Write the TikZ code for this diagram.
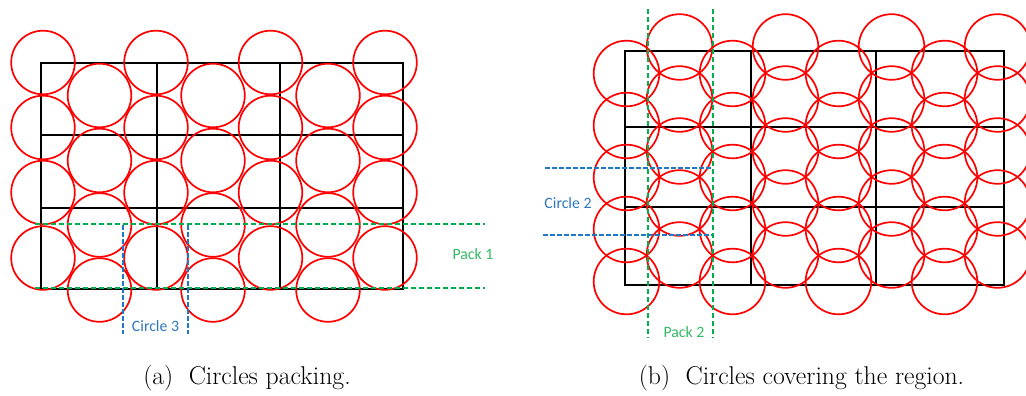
\documentclass[tikz,border=0pt]{standalone}
\usepackage{fontspec}
\newfontfamily\labelfont{Carlito}
\definecolor{packgreen}{RGB}{0,176,80}
\definecolor{packgreentext}{RGB}{50,185,100}
\definecolor{circblue}{RGB}{30,120,200}
\definecolor{circbluetext}{RGB}{46,120,190}
\tikzset{
  grid/.style={draw=black, line width=2pt},
  disc/.style={draw=red, line width=1.7pt},
  greendash/.style={draw=packgreen, line width=1.8pt, dash pattern=on 5pt off 3pt},
  bluedash/.style={draw=circblue, line width=1.8pt, dash pattern=on 5pt off 2pt},
  glabel/.style={text=packgreentext, font=\labelfont\fontsize{15.8}{18}\selectfont, inner sep=0pt},
  blabel/.style={text=circbluetext, font=\labelfont\fontsize{15.8}{18}\selectfont, inner sep=0pt},
  capt/.style={font=\fontsize{25.7}{30}\selectfont, inner sep=0pt}
}
\begin{document}
\begin{tikzpicture}[x=1pt,y=-1pt]
\useasboundingbox (0,0) rectangle (1026,396);
\clip (0,0) rectangle (1026,396);
% ---------------- panel (a) ----------------
\draw[grid] (41,63) rectangle (403,289);
\draw[grid] (157,63) -- (157,289);
\draw[grid] (280,63) -- (280,289);
\draw[grid] (41,135) -- (403,135);
\draw[grid] (41,208) -- (403,208);
\foreach \x in {43,156,270.5,385}{
  \foreach \y in {62.5,127.5,192.5,258}{
    \draw[disc] (\x,\y) circle[radius=31.8pt];
  }
}
\foreach \x in {99.5,213,328}{
  \foreach \y in {95.5,160.5,225,290}{
    \draw[disc] (\x,\y) circle[radius=31.8pt];
  }
}
\coordinate (p1a) at (35,224);
\coordinate (p1b) at (485,224);
\coordinate (p1c) at (35,288);
\coordinate (p1d) at (485,288);
\draw[greendash] (p1a) -- (p1b);
\draw[greendash] (p1c) -- (p1d);
\node[glabel] (pack1) at (473,254) {Pack 1};
\coordinate (c3a) at (123,225);
\coordinate (c3b) at (123,334);
\coordinate (c3c) at (188,225);
\coordinate (c3d) at (188,334);
\draw[bluedash] (c3a) -- (c3b);
\draw[bluedash] (c3c) -- (c3d);
\node[blabel] (circle3) at (155.5,326) {Circle 3};
\node[capt] (capa) at (247,378) {(a)\hspace{0.6em}Circles packing.};
% ---------------- panel (b) ----------------
\draw[grid] (625,51) rectangle (1004,285);
\draw[grid] (751,51) -- (751,285);
\draw[grid] (876,51) -- (876,285);
\draw[grid] (625,127) -- (1004,127);
\draw[grid] (625,207) -- (1004,207);
\foreach \x in {626.5,732.5,838.5,944.5}{
  \foreach \y in {73.5,125.5,177.5,229.5,281.5}{
    \draw[disc] (\x,\y) circle[radius=32.8pt];
  }
}
\foreach \x in {679.5,785.5,891.5,997.5}{
  \foreach \y in {47,99,151,203,255}{
    \draw[disc] (\x,\y) circle[radius=32.8pt];
  }
}
\coordinate (p2a) at (648,9);
\coordinate (p2b) at (648,338);
\coordinate (p2c) at (713,9);
\coordinate (p2d) at (713,338);
\draw[greendash] (p2a) -- (p2b);
\draw[greendash] (p2c) -- (p2d);
\node[glabel] (pack2) at (684,332) {Pack 2};
\coordinate (c2a) at (545,168);
\coordinate (c2b) at (712,168);
\coordinate (c2c) at (543,235);
\coordinate (c2d) at (712,235);
\draw[bluedash] (c2a) -- (c2b);
\draw[bluedash] (c2c) -- (c2d);
\node[blabel] (circle2) at (568,203) {Circle 2};
\node[capt] (capb) at (801.5,378) {(b)\hspace{0.6em}Circles covering the region.};
\end{tikzpicture}
\end{document}
